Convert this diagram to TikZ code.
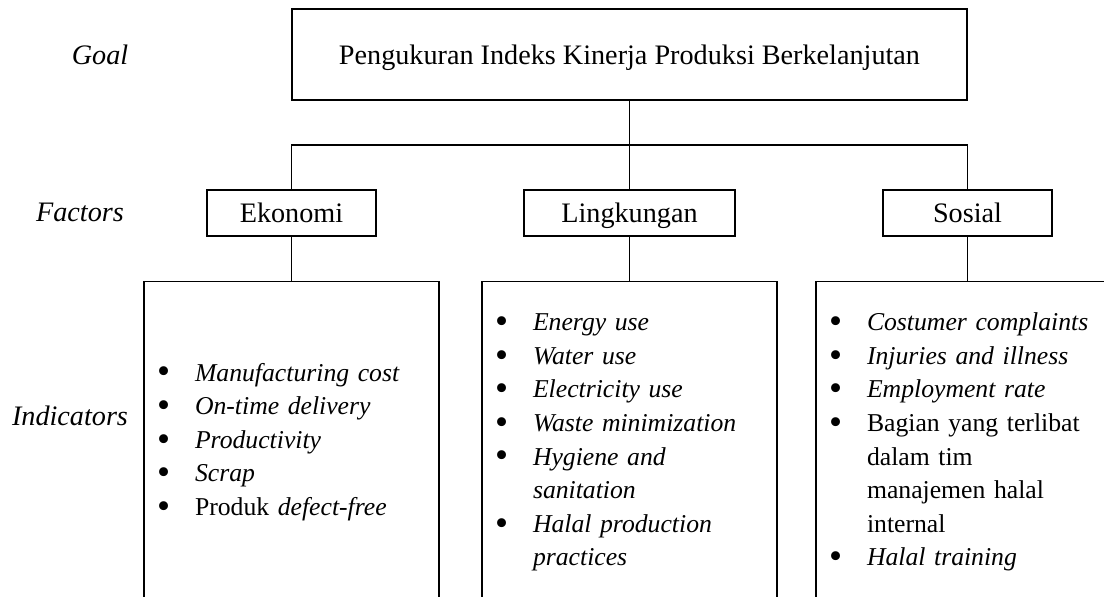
\documentclass[tikz,border=0pt]{standalone}
\usepackage{fontspec}
\setmainfont{Liberation Serif}
\usepackage{array}
\usepackage{graphicx}
\newcommand{\hdfont}{\fontsize{14.1}{17}\selectfont}
\newcommand{\lsfont}{\fontsize{12.85}{16.8}\selectfont}
\newcommand{\itm}{\smash{\raisebox{-1.4pt}{\scalebox{1.45}{\textbullet}}} &}

\begin{document}
\begin{tikzpicture}[x=0.5pt,y=-0.5pt,line width=0.6pt,
  box/.style={draw,font=\hdfont,inner sep=0pt,text height=9.6pt,text depth=0pt},
  indbox/.style={draw,anchor=north,minimum height=160pt,inner xsep=6.5pt,inner ysep=0pt,text width=134.5pt,align=left,font=\lsfont},
  lbl/.style={font=\hdfont\itshape}]
\clip (0,0) rectangle (1104,596);
% ---- GOAL ----
\node[box,minimum width=337.5pt,minimum height=45.5pt] (goal) at (629.5,54.5) {Pengukuran Indeks Kinerja Produksi Berkelanjutan};
% ---- FACTORS ----
\node[box,minimum width=84.5pt,minimum height=23pt] (eko) at (291.5,213) {Ekonomi};
\node[box,minimum width=105.5pt,minimum height=23pt] (ling) at (629.5,213) {Lingkungan};
\node[box,minimum width=84.5pt,minimum height=23pt] (sos) at (967.5,213) {Sosial};
% ---- INDICATORS ----
\node[indbox] (ind1) at (291.5,281) {\begin{tabular}{@{}p{19pt}@{}l@{}}
\itm \textit{Manufacturing cost}\\
\itm \textit{On-time delivery}\\
\itm \textit{Productivity}\\
\itm \textit{Scrap}\\
\itm Produk \textit{defect-free}
\end{tabular}};
\node[indbox] (ind2) at (629.5,281) {\begin{tabular}{@{}p{19pt}@{}l@{}}
\itm \textit{Energy use}\\
\itm \textit{Water use}\\
\itm \textit{Electricity use}\\
\itm \textit{Waste minimization}\\
\itm \textit{Hygiene and}\\
 & \textit{sanitation}\\
\itm \textit{Halal production}\\
 & \textit{practices}
\end{tabular}};
\node[indbox] (ind3) at (963.5,281) {\begin{tabular}{@{}p{19pt}@{}l@{}}
\itm \textit{Costumer complaints}\\
\itm \textit{Injuries and illness}\\
\itm \textit{Employment rate}\\
\itm Bagian yang terlibat\\
 & dalam tim\\
 & manajemen halal\\
 & internal\\
\itm \textit{Halal training}
\end{tabular}};
% ---- LEVEL LABELS ----
\node[lbl] (lgoal) at (100,55) {Goal};
\node[lbl] (lfact) at (80,212) {Factors};
\node[lbl] (lind) at (70,416) {Indicators};
% ---- LINKS ----
\coordinate (bar) at (629.5,145);
\draw (goal.south) -- (bar);
\draw (eko.north) |- (bar) -| (sos.north);
\draw (bar) -- (ling.north);
\draw (eko.south) -- (ind1.north);
\draw (ling.south) -- (ind2.north);
\draw (sos.south) -- (sos.south |- ind3.north);
\end{tikzpicture}
\end{document}
